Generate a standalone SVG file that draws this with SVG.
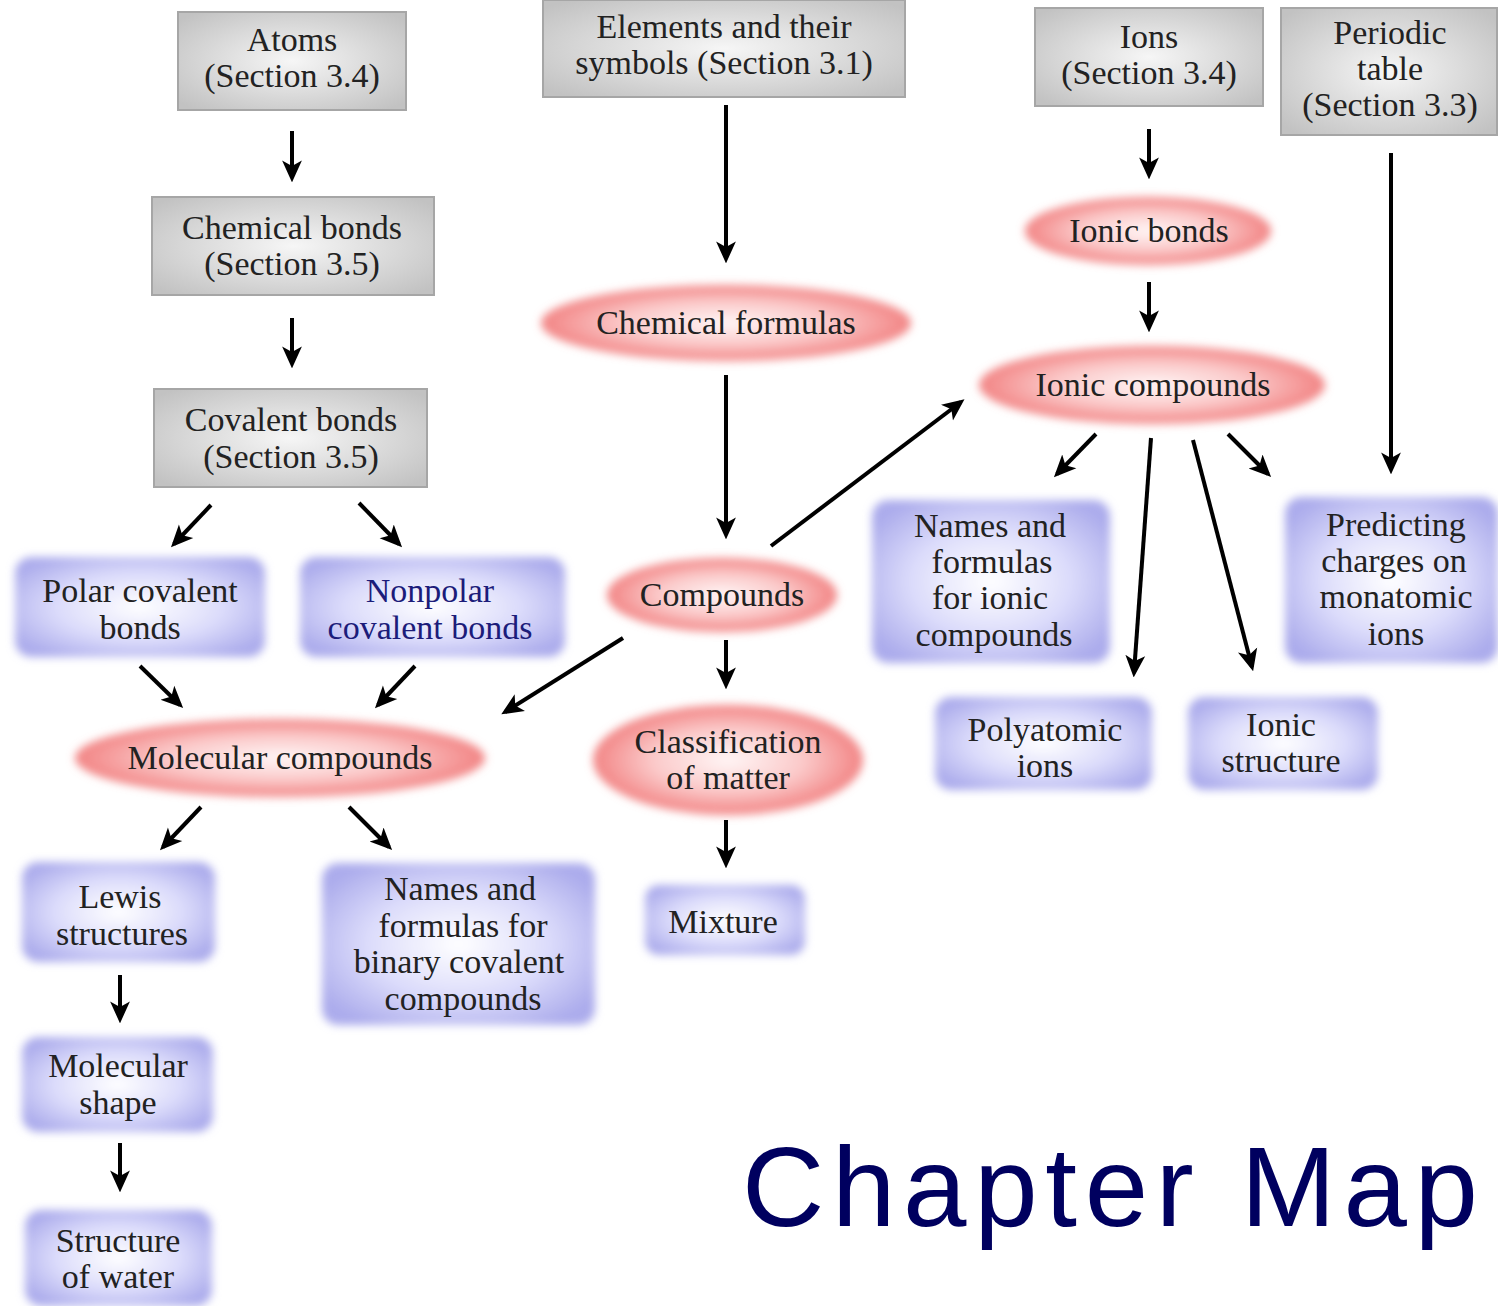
<svg xmlns="http://www.w3.org/2000/svg" width="1498" height="1306" viewBox="0 0 1498 1306">
<style>
text{font-family:"Liberation Serif","DejaVu Serif",serif;font-size:34px;fill:#222;text-anchor:middle}
.gray{fill:url(#gGray);stroke:#a6a6a6;stroke-width:2}
.pink{fill:url(#gPink);filter:url(#soft)}
.blue{fill:url(#gBlue);filter:url(#soft)}
.navy{fill:#1c1c7a}
.conn line{stroke:#000;stroke-width:4;marker-end:url(#ah)}
.title{font-family:"Liberation Sans",Arial,sans-serif;font-size:114px;fill:#00005f;text-anchor:start}
</style>
<defs>
<radialGradient id="gGray" cx="50%" cy="50%" r="65%">
<stop offset="0" stop-color="#f6f6f6"/><stop offset="1" stop-color="#c2c2c2"/>
</radialGradient>
<radialGradient id="gPink" cx="50%" cy="50%" r="50%">
<stop offset="0" stop-color="#fff6f6"/><stop offset="0.55" stop-color="#fbcaca"/><stop offset="1" stop-color="#f28484"/>
</radialGradient>
<radialGradient id="gBlue" cx="50%" cy="50%" r="60%">
<stop offset="0" stop-color="#ffffff"/><stop offset="0.55" stop-color="#dcdcfb"/><stop offset="1" stop-color="#acacec"/>
</radialGradient>
<filter id="soft" x="-10%" y="-20%" width="120%" height="140%">
<feGaussianBlur stdDeviation="4.5"/>
</filter>
<marker id="ah" viewBox="0 0 20 20" refX="16" refY="10" markerWidth="22" markerHeight="22" markerUnits="userSpaceOnUse" orient="auto">
<path d="M0,1 L20,10 L0,19 L5,10 z" fill="#000"/>
</marker>
</defs>

<g id="atoms"><rect class="gray" x="178" y="12" width="228" height="98"/><text x="292" y="51">Atoms</text><text x="292" y="87">(Section 3.4)</text></g>
<g id="chemical-bonds"><rect class="gray" x="152" y="197" width="282" height="98"/><text x="292" y="239">Chemical bonds</text><text x="292" y="275">(Section 3.5)</text></g>
<g id="covalent-bonds"><rect class="gray" x="154" y="389" width="273" height="98"/><text x="291" y="431">Covalent bonds</text><text x="291" y="468">(Section 3.5)</text></g>
<g id="elements"><rect class="gray" x="543" y="0" width="362" height="97"/><text x="724" y="38">Elements and their</text><text x="724" y="74">symbols (Section 3.1)</text></g>
<g id="ions"><rect class="gray" x="1035" y="8" width="228" height="98"/><text x="1149" y="48">Ions</text><text x="1149" y="84">(Section 3.4)</text></g>
<g id="periodic-table"><rect class="gray" x="1281" y="8" width="216" height="127"/><text x="1390" y="44">Periodic</text><text x="1390" y="80">table</text><text x="1390" y="116">(Section 3.3)</text></g>

<g id="chemical-formulas"><ellipse class="pink" cx="726" cy="323" rx="185" ry="38"/><text x="726" y="334">Chemical formulas</text></g>
<g id="ionic-bonds"><ellipse class="pink" cx="1148" cy="231" rx="123" ry="34"/><text x="1149" y="242">Ionic bonds</text></g>
<g id="ionic-compounds"><ellipse class="pink" cx="1152" cy="385" rx="173" ry="39"/><text x="1153" y="396">Ionic compounds</text></g>
<g id="compounds"><ellipse class="pink" cx="722" cy="595" rx="115" ry="37"/><text x="722" y="606">Compounds</text></g>
<g id="molecular-compounds"><ellipse class="pink" cx="280" cy="758" rx="205" ry="39"/><text x="280" y="769">Molecular compounds</text></g>
<g id="classification"><ellipse class="pink" cx="728" cy="760" rx="135" ry="55"/><text x="728" y="753">Classification</text><text x="728" y="789">of matter</text></g>

<g id="polar"><rect class="blue" x="15" y="557" width="250" height="100" rx="16"/><text x="140" y="602">Polar covalent</text><text x="140" y="639">bonds</text></g>
<g id="nonpolar"><rect class="blue" x="300" y="557" width="265" height="100" rx="16"/><text class="navy" x="430" y="602">Nonpolar</text><text class="navy" x="430" y="639">covalent bonds</text></g>
<g id="names-ionic"><rect class="blue" x="872" y="500" width="238" height="163" rx="16"/><text x="990" y="537">Names and</text><text x="992" y="573">formulas</text><text x="990" y="609">for ionic</text><text x="994" y="646">compounds</text></g>
<g id="predicting"><rect class="blue" x="1285" y="497" width="213" height="166" rx="16"/><text x="1396" y="536">Predicting</text><text x="1394" y="572">charges on</text><text x="1396" y="608">monatomic</text><text x="1396" y="645">ions</text></g>
<g id="polyatomic"><rect class="blue" x="935" y="697" width="217" height="93" rx="16"/><text x="1045" y="741">Polyatomic</text><text x="1045" y="777">ions</text></g>
<g id="ionic-structure"><rect class="blue" x="1188" y="697" width="190" height="93" rx="16"/><text x="1281" y="736">Ionic</text><text x="1281" y="772">structure</text></g>
<g id="lewis"><rect class="blue" x="22" y="862" width="193" height="100" rx="16"/><text x="120" y="908">Lewis</text><text x="122" y="945">structures</text></g>
<g id="names-binary"><rect class="blue" x="322" y="863" width="273" height="162" rx="16"/><text x="460" y="900">Names and</text><text x="463" y="937">formulas for</text><text x="459" y="973">binary covalent</text><text x="463" y="1010">compounds</text></g>
<g id="mixture"><rect class="blue" x="645" y="885" width="160" height="70" rx="14"/><text x="723" y="933">Mixture</text></g>
<g id="molecular-shape"><rect class="blue" x="22" y="1037" width="191" height="95" rx="16"/><text x="118" y="1077">Molecular</text><text x="118" y="1114">shape</text></g>
<g id="structure-water"><rect class="blue" x="25" y="1210" width="187" height="96" rx="16"/><text x="118" y="1252">Structure</text><text x="118" y="1288">of water</text></g>

<g id="connectors" class="conn">
<line x1="292" y1="131" x2="292" y2="178"/>
<line x1="292" y1="318" x2="292" y2="364"/>
<line x1="211" y1="505" x2="174" y2="544"/>
<line x1="359" y1="503" x2="399" y2="544"/>
<line x1="140" y1="666" x2="180" y2="705"/>
<line x1="415" y1="666" x2="378" y2="705"/>
<line x1="623" y1="638" x2="505" y2="712"/>
<line x1="201" y1="807" x2="163" y2="847"/>
<line x1="349" y1="807" x2="389" y2="847"/>
<line x1="120" y1="975" x2="120" y2="1019"/>
<line x1="120" y1="1143" x2="120" y2="1188"/>
<line x1="726" y1="105" x2="726" y2="259"/>
<line x1="726" y1="375" x2="726" y2="535"/>
<line x1="771" y1="546" x2="961" y2="402"/>
<line x1="726" y1="640" x2="726" y2="685"/>
<line x1="726" y1="820" x2="726" y2="864"/>
<line x1="1149" y1="129" x2="1149" y2="175"/>
<line x1="1149" y1="282" x2="1149" y2="328"/>
<line x1="1096" y1="434" x2="1057" y2="474"/>
<line x1="1151" y1="438" x2="1134" y2="673"/>
<line x1="1193" y1="440" x2="1252" y2="667"/>
<line x1="1228" y1="434" x2="1268" y2="474"/>
<line x1="1391" y1="153" x2="1391" y2="470"/>
</g>

<text class="title" x="742" y="1226" textLength="736" lengthAdjust="spacing">Chapter Map</text>
</svg>
